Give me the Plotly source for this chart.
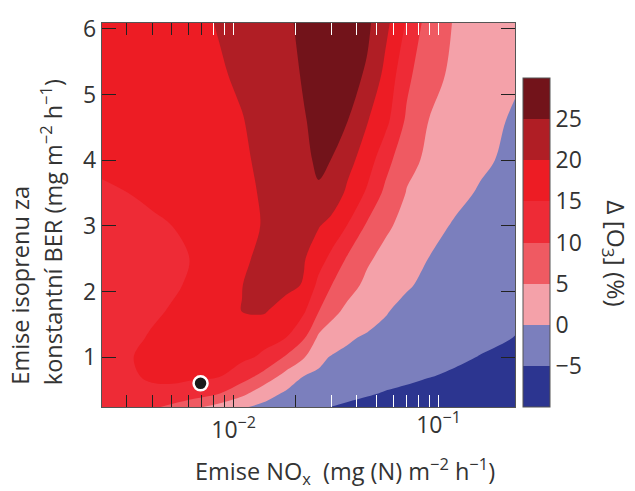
import plotly.graph_objects as go

# NOx emission (mg N m-2 h-1), log axis
nox = [0.0022, 0.003, 0.004, 0.005, 0.0065, 0.0085, 0.011, 0.014, 0.018, 0.022,
       0.026, 0.03, 0.036, 0.045, 0.055, 0.07, 0.09, 0.12, 0.16, 0.25]
# isoprene emission (mg m-2 h-1)
isoprene = [0.22, 0.45, 0.7, 1.0, 1.3, 1.7, 2.1, 2.5, 3.0, 3.5, 4.0, 4.6, 5.3, 6.2]

# Delta O3 (%), one row per isoprene value
d_o3 = [
    [13.0, 11.8, 10.4, 8.3, 5.1, 2.5, 0.1, -1.3, -2.6, -3.7, -4.6, -5.3, -6.1, -7.0, -7.6, -8.2, -8.6, -9.0, -9.3, -9.6],
    [13.2, 13.8, 14.3, 14.2, 12.7, 10.3, 6.4, 2.0, -0.6, -1.45, -2.16, -2.7, -3.5, -4.45, -5.3, -6.0, -6.6, -7.2, -7.7, -8.3],
    [13.3, 14.5, 15.4, 15.6, 15.5, 15.05, 12.1, 8.2, 3.0, -0.2, -0.75, -1.2, -1.8, -2.57, -3.25, -4.05, -4.9, -5.6, -6.2, -7.0],
    [12.9, 14.6, 16.0, 16.6, 16.8, 16.6, 16.0, 14.3, 9.45, 5.4, 1.04, -0.28, -0.8, -1.45, -2.04, -2.74, -3.47, -4.3, -5.14, -6.0],
    [12.8, 13.6, 15.5, 16.5, 17.3, 17.6, 17.2, 16.3, 15.1, 10.6, 4.2, 2.6, 0.5, -0.5, -1.1, -1.75, -2.5, -3.3, -4.1, -5.2],
    [12.5, 13.2, 14.2, 15.4, 17.0, 18.6, 20.05, 20.5, 17.8, 15.6, 10.1, 6.4, 3.9, 2.0, 0.3, -1.2, -2.3, -3.2, -4.0, -4.6],
    [12.6, 13.0, 13.6, 14.3, 15.86, 18.0, 19.95, 21.3, 21.4, 19.65, 13.7, 10.1, 6.7, 3.95, 2.35, 0.45, -1.0, -2.2, -3.2, -4.3],
    [12.8, 13.2, 13.8, 14.4, 15.2, 17.3, 19.15, 21.2, 21.9, 20.4, 17.0, 13.8, 9.4, 5.6, 3.7, 1.8, -0.1, -1.3, -2.4, -3.9],
    [13.2, 13.5, 14.2, 15.0, 16.3, 17.7, 18.9, 20.2, 21.5, 21.8, 20.3, 18.3, 14.8, 9.2, 5.8, 3.54, 1.66, -0.5, -1.8, -3.4],
    [14.3, 14.95, 15.9, 16.6, 17.5, 18.4, 19.3, 20.3, 22.0, 23.2, 24.6, 23.4, 18.95, 14.2, 8.9, 4.76, 3.16, 1.34, -0.5, -2.6],
    [15.8, 16.2, 16.7, 17.3, 18.0, 18.8, 19.5, 20.67, 22.6, 24.2, 25.6, 24.95, 21.7, 17.25, 11.9, 6.2, 4.2, 2.5, 0.86, -1.5],
    [16.3, 16.8, 17.3, 17.8, 18.4, 19.1, 19.8, 21.5, 23.3, 24.8, 25.8, 26.5, 25.05, 20.2, 16.4, 9.15, 4.9, 3.36, 1.77, -1.0],
    [16.5, 17.0, 17.6, 18.2, 18.7, 19.5, 20.77, 22.35, 23.9, 25.3, 26.5, 27.2, 26.7, 24.4, 18.7, 11.2, 6.3, 4.2, 2.7, 0.4],
    [16.5, 17.0, 17.6, 18.2, 19.1, 20.4, 21.8, 23.1, 24.5, 25.8, 27.3, 28.0, 27.5, 26.0, 21.8, 14.9, 8.1, 4.7, 3.3, 1.3],
]

# reference point (black dot)
dot_x = [0.0069]
dot_y = [0.6]

cbar_ticks = [-5, 0, 5, 10, 15, 20, 25]
band_colors = ['#2c3590', '#7b7fbd', '#f4a1a9', '#ef5a62', '#ee2b36', '#ed1c24', '#b01e25', '#72131a']

ticks_bottom_dark = [0.003, 0.004, 0.005, 0.006, 0.007, 0.008, 0.009, 0.01, 0.02]
ticks_bottom_light = [0.03, 0.04, 0.05, 0.06, 0.07, 0.08, 0.09, 0.1]
ticks_top_dark = [0.003, 0.004, 0.005, 0.006, 0.007]
ticks_top_light = [0.008, 0.009, 0.01, 0.02, 0.03, 0.04, 0.05, 0.06, 0.07, 0.08, 0.09, 0.1]

FONT = 'Open Sans'
TXT = '#333333'
TICK_SIZE = 23
TITLE_SIZE = 23.5
W, H = 635, 491
L, R, T, B = 102, 120, 20, 84
xr = [-2.642, -0.627]
yr = [0.24, 6.09]
PW, PH = W - L - R, H - T - B

n = len(band_colors)
cscale = [[i / (n - 1), c] for i, c in enumerate(band_colors)]

fig = go.Figure()
fig.add_trace(go.Contour(
    x=nox, y=isoprene, z=d_o3,
    colorscale=cscale, zauto=False, zmin=-10, zmax=30,
    autocontour=False,
    contours=dict(start=-5, end=25, size=5, coloring='fill', showlines=False),
    line=dict(width=0, smoothing=1.0),
    colorbar=dict(
        thickness=27, thicknessmode='pixels', len=329, lenmode='pixels',
        x=(523 - L) / PW, xanchor='left', xpad=0,
        y=0, yanchor='bottom', ypad=0,
        outlinewidth=1, outlinecolor='#555',
        tickvals=cbar_ticks, ticks='', ticklabelposition='outside',
        tickfont=dict(family=FONT, size=TICK_SIZE, color=TXT),
    ),
    hoverinfo='skip',
))
fig.add_trace(go.Scatter(
    x=dot_x, y=dot_y, mode='markers',
    marker=dict(size=14, color='#1a1a1a', line=dict(color='white', width=2.5)),
    showlegend=False, hoverinfo='skip',
))
for ax in ['x2', 'x3', 'x4']:
    fig.add_trace(go.Scatter(x=[0.01], y=[1], xaxis=ax, yaxis='y', mode='markers',
                             marker=dict(opacity=0), showlegend=False, hoverinfo='skip'))

def lbl(vals, labels):
    return [labels.get(v, '') for v in vals]

common = dict(type='log', range=xr, showgrid=False, zeroline=False, ticks='inside',
              ticklen=12, tickwidth=1.2, tickfont=dict(family=FONT, size=TICK_SIZE, color=TXT),
              ticklabelstandoff=2)
fig.update_layout(
    width=W, height=H, margin=dict(l=L, r=R, t=T, b=B),
    paper_bgcolor='white', plot_bgcolor='white', showlegend=False,
    xaxis=dict(**common, tickvals=ticks_bottom_dark,
               ticktext=lbl(ticks_bottom_dark, {0.01: '10<sup>−2</sup>'}),
               tickcolor='#222', showline=True, linecolor='#555', linewidth=1.3, mirror=True),
    xaxis2=dict(**common, overlaying='x', anchor='y', side='bottom',
                tickvals=ticks_bottom_light,
                ticktext=lbl(ticks_bottom_light, {0.1: '10<sup>−1</sup>'}),
                tickcolor='white', showline=False),
    xaxis3=dict(**common, overlaying='x', anchor='y', side='top',
                tickvals=ticks_top_dark, showticklabels=False,
                tickcolor='#222', showline=False),
    xaxis4=dict(**common, overlaying='x', anchor='y', side='top',
                tickvals=ticks_top_light, showticklabels=False,
                tickcolor='white', showline=False),
    yaxis=dict(range=yr, showgrid=False, zeroline=False, ticks='inside', ticklen=14,
               tickwidth=1.2, tickcolor='#222', tickvals=[1, 2, 3, 4, 5, 6],
               tickfont=dict(family=FONT, size=TICK_SIZE, color=TXT),
               showline=True, linecolor='#555', linewidth=1.3, mirror='ticks'),
)

ann_font = dict(family=FONT, size=TITLE_SIZE, color=TXT)
fig.add_annotation(xref='paper', yref='paper', x=(20 - L) / PW, y=(H - B - 387) / PH,
                   xanchor='center', yanchor='bottom', textangle=-90, showarrow=False,
                   text='Emise isoprenu za', font=ann_font)
fig.add_annotation(xref='paper', yref='paper', x=(51 - L) / PW, y=(H - B - 387) / PH,
                   xanchor='center', yanchor='bottom', textangle=-90, showarrow=False,
                   text='konstantní BER (mg m<sup>−2</sup> h<sup>−1</sup>)', font=ann_font)
fig.add_annotation(xref='paper', yref='paper', x=(345 - L) / PW, y=(H - B - 472) / PH,
                   xanchor='center', yanchor='middle', showarrow=False,
                   text='Emise NO<sub>x</sub>  (mg (N) m<sup>−2</sup> h<sup>−1</sup>)', font=ann_font)
fig.add_annotation(xref='paper', yref='paper', x=(615 - L) / PW, y=(H - B - 252) / PH,
                   xanchor='center', yanchor='middle', textangle=90, showarrow=False,
                   text='Δ [O<sub>3</sub>] (%)', font=dict(family=FONT, size=24.5, color=TXT))

fig.write_html('out.html')
